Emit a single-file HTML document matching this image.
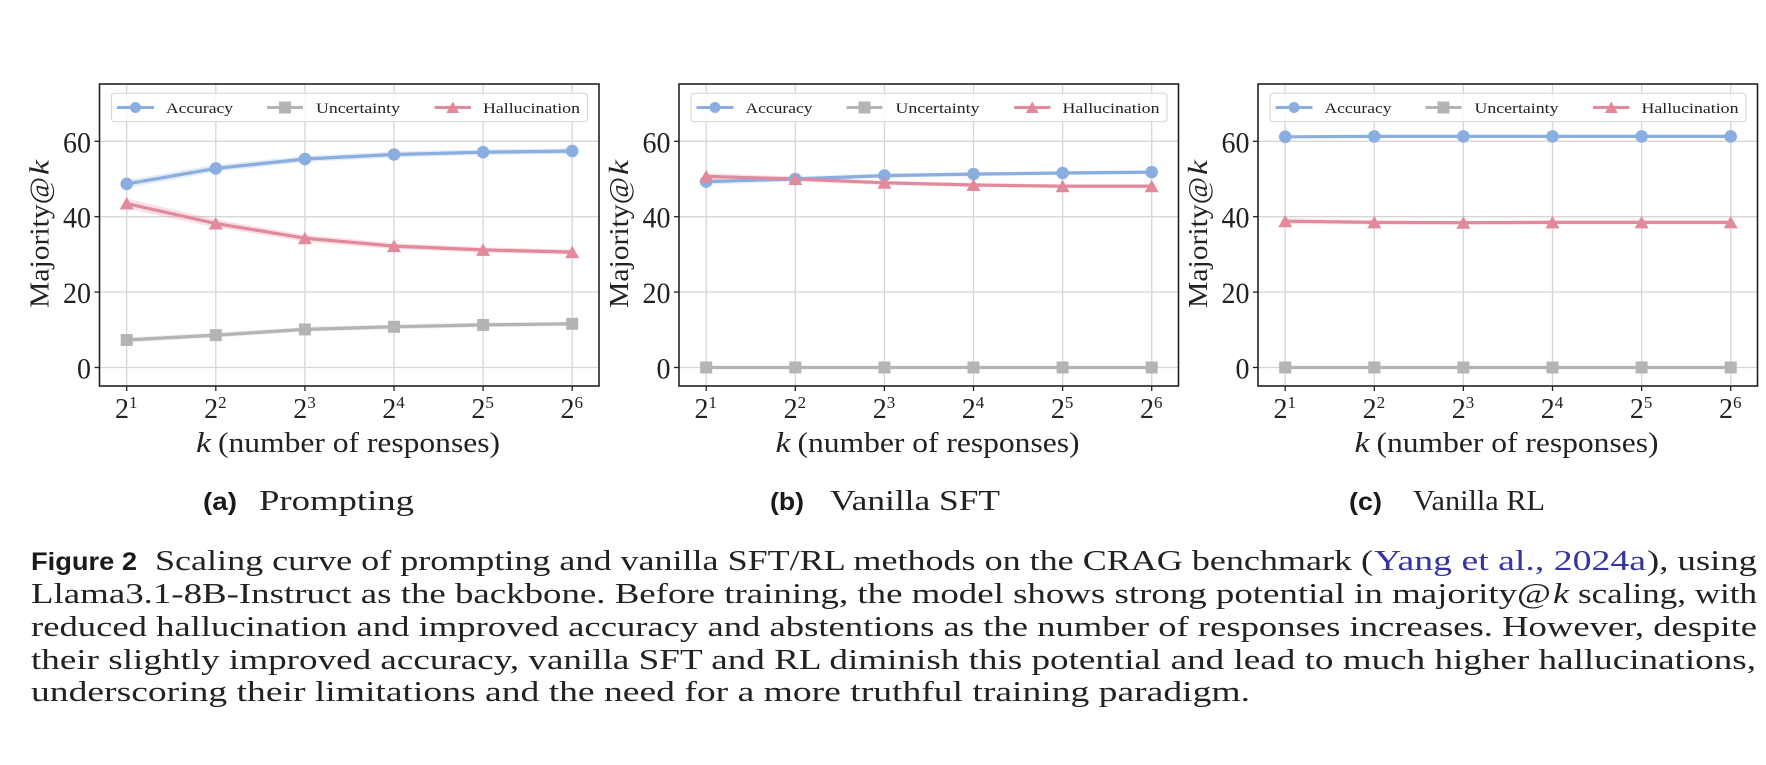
<!DOCTYPE html>
<html>
<head>
<meta charset="utf-8">
<style>
html,body{margin:0;padding:0;background:#fff;}
svg{display:block;}
.s{font-family:"Liberation Serif",serif;fill:#222;}
.ss{font-family:"Liberation Sans",sans-serif;font-weight:bold;fill:#1a1a1a;}
</style>
</head>
<body>
<svg width="1766" height="765" viewBox="0 0 1766 765" xmlns="http://www.w3.org/2000/svg">
<rect width="1766" height="765" fill="#fff"/>

<!-- ================= PANEL A ================= -->
<g>
  <g stroke="#d6d6d6" stroke-width="1.3">
    <line x1="126.7" y1="84" x2="126.7" y2="386"/><line x1="215.8" y1="84" x2="215.8" y2="386"/><line x1="304.9" y1="84" x2="304.9" y2="386"/><line x1="394" y1="84" x2="394" y2="386"/><line x1="483.1" y1="84" x2="483.1" y2="386"/><line x1="572.2" y1="84" x2="572.2" y2="386"/>
    <line x1="99.5" y1="367.5" x2="599" y2="367.5"/><line x1="99.5" y1="292.1" x2="599" y2="292.1"/><line x1="99.5" y1="216.7" x2="599" y2="216.7"/><line x1="99.5" y1="141.3" x2="599" y2="141.3"/>
  </g>
  <g stroke="#222" stroke-width="1.3">
    <line x1="126.7" y1="386" x2="126.7" y2="391"/><line x1="215.8" y1="386" x2="215.8" y2="391"/><line x1="304.9" y1="386" x2="304.9" y2="391"/><line x1="394" y1="386" x2="394" y2="391"/><line x1="483.1" y1="386" x2="483.1" y2="391"/><line x1="572.2" y1="386" x2="572.2" y2="391"/>
    <line x1="94.5" y1="367.5" x2="99.5" y2="367.5"/><line x1="94.5" y1="292.1" x2="99.5" y2="292.1"/><line x1="94.5" y1="216.7" x2="99.5" y2="216.7"/><line x1="94.5" y1="141.3" x2="99.5" y2="141.3"/>
  </g>
  <polygon fill="#8aaee0" fill-opacity="0.25" points="126.7,179.9 215.8,164.9 304.9,156 394,151.5 483.1,149.4 572.2,148.3 572.2,153.9 483.1,155 394,157.5 304.9,162 215.8,171.9 126.7,187.9"/>
  <polygon fill="#e3899c" fill-opacity="0.25" points="126.7,198.5 215.8,219.5 304.9,234.7 394,243.1 483.1,247.2 572.2,249.5 572.2,254.7 483.1,252.6 394,249.1 304.9,241.7 215.8,227.5 126.7,208.5"/>
  <polygon fill="#b4b4b4" fill-opacity="0.25" points="126.7,337.5 215.8,332.6 304.9,327 394,324.4 483.1,322.6 572.2,321.5 572.2,326.1 483.1,327.2 394,329.2 304.9,331.8 215.8,337.6 126.7,342.5"/>
  <polyline fill="none" stroke="#8aaee0" stroke-width="3.2" points="126.7,183.9 215.8,168.4 304.9,159 394,154.5 483.1,152.2 572.2,151.1"/>
  <polyline fill="none" stroke="#b4b4b4" stroke-width="3.2" points="126.7,340 215.8,335.1 304.9,329.4 394,326.8 483.1,324.9 572.2,323.8"/>
  <polyline fill="none" stroke="#e3899c" stroke-width="3.2" points="126.7,203.5 215.8,223.5 304.9,238.2 394,246.1 483.1,249.9 572.2,252.1"/>
  <g fill="#8aaee0"><circle cx="126.7" cy="183.9" r="6.3"/><circle cx="215.8" cy="168.4" r="6.3"/><circle cx="304.9" cy="159" r="6.3"/><circle cx="394" cy="154.5" r="6.3"/><circle cx="483.1" cy="152.2" r="6.3"/><circle cx="572.2" cy="151.1" r="6.3"/></g>
  <g fill="#b4b4b4"><rect x="120.7" y="334" width="12" height="12"/><rect x="209.8" y="329.1" width="12" height="12"/><rect x="298.9" y="323.4" width="12" height="12"/><rect x="388" y="320.8" width="12" height="12"/><rect x="477.1" y="318.9" width="12" height="12"/><rect x="566.2" y="317.8" width="12" height="12"/></g>
  <g fill="#e3899c"><polygon points="126.7,197 119.7,209.5 133.7,209.5"/><polygon points="215.8,217 208.8,229.5 222.8,229.5"/><polygon points="304.9,231.7 297.9,244.2 311.9,244.2"/><polygon points="394,239.6 387,252.1 401,252.1"/><polygon points="483.1,243.4 476.1,255.9 490.1,255.9"/><polygon points="572.2,245.6 565.2,258.1 579.2,258.1"/></g>
  <rect x="111.5" y="93.3" width="476" height="28.4" rx="3" fill="#fff" fill-opacity="0.85" stroke="#d9d9d9" stroke-width="1.2"/>
  <line x1="117" y1="107.5" x2="154" y2="107.5" stroke="#8aaee0" stroke-width="3"/><circle cx="135.5" cy="107.5" r="5.5" fill="#8aaee0"/>
  <line x1="267" y1="107.5" x2="303" y2="107.5" stroke="#b4b4b4" stroke-width="3"/><rect x="279" y="101.5" width="12" height="12" fill="#b4b4b4"/>
  <line x1="434.5" y1="107.5" x2="471" y2="107.5" stroke="#e3899c" stroke-width="3"/><polygon points="452.8,101.5 446.3,113 459.3,113" fill="#e3899c"/>
  <text class="s" x="166" y="112.8" font-size="15" textLength="67" lengthAdjust="spacingAndGlyphs">Accuracy</text>
  <text class="s" x="316" y="112.8" font-size="15" textLength="84" lengthAdjust="spacingAndGlyphs">Uncertainty</text>
  <text class="s" x="483" y="112.8" font-size="15" textLength="97" lengthAdjust="spacingAndGlyphs">Hallucination</text>
  <rect x="99.5" y="84" width="499.5" height="302" fill="none" stroke="#222" stroke-width="1.6"/>
  <text class="s" x="63" y="152.3" font-size="30" textLength="28" lengthAdjust="spacingAndGlyphs">60</text>
  <text class="s" x="63" y="227.7" font-size="30" textLength="28" lengthAdjust="spacingAndGlyphs">40</text>
  <text class="s" x="63" y="303.1" font-size="30" textLength="28" lengthAdjust="spacingAndGlyphs">20</text>
  <text class="s" x="77" y="378.5" font-size="30" textLength="14" lengthAdjust="spacingAndGlyphs">0</text>
  <text class="s" x="115" y="418" font-size="28">2<tspan font-size="17" dy="-10">1</tspan></text>
  <text class="s" x="204.1" y="418" font-size="28">2<tspan font-size="17" dy="-10">2</tspan></text>
  <text class="s" x="293.2" y="418" font-size="28">2<tspan font-size="17" dy="-10">3</tspan></text>
  <text class="s" x="382.3" y="418" font-size="28">2<tspan font-size="17" dy="-10">4</tspan></text>
  <text class="s" x="471.4" y="418" font-size="28">2<tspan font-size="17" dy="-10">5</tspan></text>
  <text class="s" x="560.5" y="418" font-size="28">2<tspan font-size="17" dy="-10">6</tspan></text>
  <text class="s" x="196" y="452" font-size="28" font-style="italic" textLength="15" lengthAdjust="spacingAndGlyphs">k</text>
  <text class="s" x="218" y="452" font-size="28" textLength="282" lengthAdjust="spacingAndGlyphs">(number of responses)</text>
  <g transform="translate(48.5,234) rotate(-90)">
    <text class="s" x="-74" y="0" font-size="27" textLength="131" lengthAdjust="spacingAndGlyphs">Majority@</text>
    <text class="s" x="59" y="0" font-size="27" font-style="italic" textLength="15" lengthAdjust="spacingAndGlyphs">k</text>
  </g>
</g>

<!-- ================= PANEL B ================= -->
<g transform="translate(579.5,0)">
  <g stroke="#d6d6d6" stroke-width="1.3">
    <line x1="126.7" y1="84" x2="126.7" y2="386"/><line x1="215.8" y1="84" x2="215.8" y2="386"/><line x1="304.9" y1="84" x2="304.9" y2="386"/><line x1="394" y1="84" x2="394" y2="386"/><line x1="483.1" y1="84" x2="483.1" y2="386"/><line x1="572.2" y1="84" x2="572.2" y2="386"/>
    <line x1="99.5" y1="367.5" x2="599" y2="367.5"/><line x1="99.5" y1="292.1" x2="599" y2="292.1"/><line x1="99.5" y1="216.7" x2="599" y2="216.7"/><line x1="99.5" y1="141.3" x2="599" y2="141.3"/>
  </g>
  <g stroke="#222" stroke-width="1.3">
    <line x1="126.7" y1="386" x2="126.7" y2="391"/><line x1="215.8" y1="386" x2="215.8" y2="391"/><line x1="304.9" y1="386" x2="304.9" y2="391"/><line x1="394" y1="386" x2="394" y2="391"/><line x1="483.1" y1="386" x2="483.1" y2="391"/><line x1="572.2" y1="386" x2="572.2" y2="391"/>
    <line x1="94.5" y1="367.5" x2="99.5" y2="367.5"/><line x1="94.5" y1="292.1" x2="99.5" y2="292.1"/><line x1="94.5" y1="216.7" x2="99.5" y2="216.7"/><line x1="94.5" y1="141.3" x2="99.5" y2="141.3"/>
  </g>
  <polygon fill="#8aaee0" fill-opacity="0.22" points="126.7,178.6 215.8,176.5 304.9,173.4 394,172.1 483.1,171 572.2,170.2 572.2,174.2 483.1,175 394,176.1 304.9,177.8 215.8,181.5 126.7,184.6"/>
  <polygon fill="#e3899c" fill-opacity="0.22" points="126.7,172.9 215.8,176.5 304.9,180.6 394,183 483.1,184.2 572.2,184.2 572.2,188.2 483.1,188.2 394,187 304.9,185 215.8,181.5 126.7,179.9"/>
  <polyline fill="none" stroke="#8aaee0" stroke-width="3.2" points="126.7,181.6 215.8,179 304.9,175.6 394,174.1 483.1,173 572.2,172.2"/>
  <polyline fill="none" stroke="#b4b4b4" stroke-width="3.2" points="126.7,367.5 215.8,367.5 304.9,367.5 394,367.5 483.1,367.5 572.2,367.5"/>
  <polyline fill="none" stroke="#e3899c" stroke-width="3.2" points="126.7,176.4 215.8,179 304.9,182.8 394,185 483.1,186.2 572.2,186.2"/>
  <g fill="#8aaee0"><circle cx="126.7" cy="181.6" r="6.3"/><circle cx="215.8" cy="179" r="6.3"/><circle cx="304.9" cy="175.6" r="6.3"/><circle cx="394" cy="174.1" r="6.3"/><circle cx="483.1" cy="173" r="6.3"/><circle cx="572.2" cy="172.2" r="6.3"/></g>
  <g fill="#b4b4b4"><rect x="120.7" y="361.5" width="12" height="12"/><rect x="209.8" y="361.5" width="12" height="12"/><rect x="298.9" y="361.5" width="12" height="12"/><rect x="388" y="361.5" width="12" height="12"/><rect x="477.1" y="361.5" width="12" height="12"/><rect x="566.2" y="361.5" width="12" height="12"/></g>
  <g fill="#e3899c"><polygon points="126.7,169.9 119.7,182.4 133.7,182.4"/><polygon points="215.8,172.5 208.8,185 222.8,185"/><polygon points="304.9,176.3 297.9,188.8 311.9,188.8"/><polygon points="394,178.5 387,191 401,191"/><polygon points="483.1,179.7 476.1,192.2 490.1,192.2"/><polygon points="572.2,179.7 565.2,192.2 579.2,192.2"/></g>
  <rect x="111.5" y="93.3" width="476" height="28.4" rx="3" fill="#fff" fill-opacity="0.85" stroke="#d9d9d9" stroke-width="1.2"/>
  <line x1="117" y1="107.5" x2="154" y2="107.5" stroke="#8aaee0" stroke-width="3"/><circle cx="135.5" cy="107.5" r="5.5" fill="#8aaee0"/>
  <line x1="267" y1="107.5" x2="303" y2="107.5" stroke="#b4b4b4" stroke-width="3"/><rect x="279" y="101.5" width="12" height="12" fill="#b4b4b4"/>
  <line x1="434.5" y1="107.5" x2="471" y2="107.5" stroke="#e3899c" stroke-width="3"/><polygon points="452.8,101.5 446.3,113 459.3,113" fill="#e3899c"/>
  <text class="s" x="166" y="112.8" font-size="15" textLength="67" lengthAdjust="spacingAndGlyphs">Accuracy</text>
  <text class="s" x="316" y="112.8" font-size="15" textLength="84" lengthAdjust="spacingAndGlyphs">Uncertainty</text>
  <text class="s" x="483" y="112.8" font-size="15" textLength="97" lengthAdjust="spacingAndGlyphs">Hallucination</text>
  <rect x="99.5" y="84" width="499.5" height="302" fill="none" stroke="#222" stroke-width="1.6"/>
  <text class="s" x="63" y="152.3" font-size="30" textLength="28" lengthAdjust="spacingAndGlyphs">60</text>
  <text class="s" x="63" y="227.7" font-size="30" textLength="28" lengthAdjust="spacingAndGlyphs">40</text>
  <text class="s" x="63" y="303.1" font-size="30" textLength="28" lengthAdjust="spacingAndGlyphs">20</text>
  <text class="s" x="77" y="378.5" font-size="30" textLength="14" lengthAdjust="spacingAndGlyphs">0</text>
  <text class="s" x="115" y="418" font-size="28">2<tspan font-size="17" dy="-10">1</tspan></text>
  <text class="s" x="204.1" y="418" font-size="28">2<tspan font-size="17" dy="-10">2</tspan></text>
  <text class="s" x="293.2" y="418" font-size="28">2<tspan font-size="17" dy="-10">3</tspan></text>
  <text class="s" x="382.3" y="418" font-size="28">2<tspan font-size="17" dy="-10">4</tspan></text>
  <text class="s" x="471.4" y="418" font-size="28">2<tspan font-size="17" dy="-10">5</tspan></text>
  <text class="s" x="560.5" y="418" font-size="28">2<tspan font-size="17" dy="-10">6</tspan></text>
  <text class="s" x="196" y="452" font-size="28" font-style="italic" textLength="15" lengthAdjust="spacingAndGlyphs">k</text>
  <text class="s" x="218" y="452" font-size="28" textLength="282" lengthAdjust="spacingAndGlyphs">(number of responses)</text>
  <g transform="translate(48.5,234) rotate(-90)">
    <text class="s" x="-74" y="0" font-size="27" textLength="131" lengthAdjust="spacingAndGlyphs">Majority@</text>
    <text class="s" x="59" y="0" font-size="27" font-style="italic" textLength="15" lengthAdjust="spacingAndGlyphs">k</text>
  </g>
</g>

<!-- ================= PANEL C ================= -->
<g transform="translate(1158.5,0)">
  <g stroke="#d6d6d6" stroke-width="1.3">
    <line x1="126.7" y1="84" x2="126.7" y2="386"/><line x1="215.8" y1="84" x2="215.8" y2="386"/><line x1="304.9" y1="84" x2="304.9" y2="386"/><line x1="394" y1="84" x2="394" y2="386"/><line x1="483.1" y1="84" x2="483.1" y2="386"/><line x1="572.2" y1="84" x2="572.2" y2="386"/>
    <line x1="99.5" y1="367.5" x2="599" y2="367.5"/><line x1="99.5" y1="292.1" x2="599" y2="292.1"/><line x1="99.5" y1="216.7" x2="599" y2="216.7"/><line x1="99.5" y1="141.3" x2="599" y2="141.3"/>
  </g>
  <g stroke="#222" stroke-width="1.3">
    <line x1="126.7" y1="386" x2="126.7" y2="391"/><line x1="215.8" y1="386" x2="215.8" y2="391"/><line x1="304.9" y1="386" x2="304.9" y2="391"/><line x1="394" y1="386" x2="394" y2="391"/><line x1="483.1" y1="386" x2="483.1" y2="391"/><line x1="572.2" y1="386" x2="572.2" y2="391"/>
    <line x1="94.5" y1="367.5" x2="99.5" y2="367.5"/><line x1="94.5" y1="292.1" x2="99.5" y2="292.1"/><line x1="94.5" y1="216.7" x2="99.5" y2="216.7"/><line x1="94.5" y1="141.3" x2="99.5" y2="141.3"/>
  </g>
  <polygon fill="#e3899c" fill-opacity="0.22" points="126.7,218.2 215.8,220.4 304.9,220.7 394,220.4 483.1,220.4 572.2,220.4 572.2,224.4 483.1,224.4 394,224.4 304.9,224.7 215.8,224.4 126.7,224.2"/>
  <polyline fill="none" stroke="#8aaee0" stroke-width="3.2" points="126.7,136.8 215.8,136.4 304.9,136.4 394,136.4 483.1,136.4 572.2,136.4"/>
  <polyline fill="none" stroke="#b4b4b4" stroke-width="3.2" points="126.7,367.5 215.8,367.5 304.9,367.5 394,367.5 483.1,367.5 572.2,367.5"/>
  <polyline fill="none" stroke="#e3899c" stroke-width="3.2" points="126.7,221.2 215.8,222.4 304.9,222.7 394,222.4 483.1,222.4 572.2,222.4"/>
  <g fill="#8aaee0"><circle cx="126.7" cy="136.8" r="6.3"/><circle cx="215.8" cy="136.4" r="6.3"/><circle cx="304.9" cy="136.4" r="6.3"/><circle cx="394" cy="136.4" r="6.3"/><circle cx="483.1" cy="136.4" r="6.3"/><circle cx="572.2" cy="136.4" r="6.3"/></g>
  <g fill="#b4b4b4"><rect x="120.7" y="361.5" width="12" height="12"/><rect x="209.8" y="361.5" width="12" height="12"/><rect x="298.9" y="361.5" width="12" height="12"/><rect x="388" y="361.5" width="12" height="12"/><rect x="477.1" y="361.5" width="12" height="12"/><rect x="566.2" y="361.5" width="12" height="12"/></g>
  <g fill="#e3899c"><polygon points="126.7,214.7 119.7,227.2 133.7,227.2"/><polygon points="215.8,215.9 208.8,228.4 222.8,228.4"/><polygon points="304.9,216.2 297.9,228.7 311.9,228.7"/><polygon points="394,215.9 387,228.4 401,228.4"/><polygon points="483.1,215.9 476.1,228.4 490.1,228.4"/><polygon points="572.2,215.9 565.2,228.4 579.2,228.4"/></g>
  <rect x="111.5" y="93.3" width="476" height="28.4" rx="3" fill="#fff" fill-opacity="0.85" stroke="#d9d9d9" stroke-width="1.2"/>
  <line x1="117" y1="107.5" x2="154" y2="107.5" stroke="#8aaee0" stroke-width="3"/><circle cx="135.5" cy="107.5" r="5.5" fill="#8aaee0"/>
  <line x1="267" y1="107.5" x2="303" y2="107.5" stroke="#b4b4b4" stroke-width="3"/><rect x="279" y="101.5" width="12" height="12" fill="#b4b4b4"/>
  <line x1="434.5" y1="107.5" x2="471" y2="107.5" stroke="#e3899c" stroke-width="3"/><polygon points="452.8,101.5 446.3,113 459.3,113" fill="#e3899c"/>
  <text class="s" x="166" y="112.8" font-size="15" textLength="67" lengthAdjust="spacingAndGlyphs">Accuracy</text>
  <text class="s" x="316" y="112.8" font-size="15" textLength="84" lengthAdjust="spacingAndGlyphs">Uncertainty</text>
  <text class="s" x="483" y="112.8" font-size="15" textLength="97" lengthAdjust="spacingAndGlyphs">Hallucination</text>
  <rect x="99.5" y="84" width="499.5" height="302" fill="none" stroke="#222" stroke-width="1.6"/>
  <text class="s" x="63" y="152.3" font-size="30" textLength="28" lengthAdjust="spacingAndGlyphs">60</text>
  <text class="s" x="63" y="227.7" font-size="30" textLength="28" lengthAdjust="spacingAndGlyphs">40</text>
  <text class="s" x="63" y="303.1" font-size="30" textLength="28" lengthAdjust="spacingAndGlyphs">20</text>
  <text class="s" x="77" y="378.5" font-size="30" textLength="14" lengthAdjust="spacingAndGlyphs">0</text>
  <text class="s" x="115" y="418" font-size="28">2<tspan font-size="17" dy="-10">1</tspan></text>
  <text class="s" x="204.1" y="418" font-size="28">2<tspan font-size="17" dy="-10">2</tspan></text>
  <text class="s" x="293.2" y="418" font-size="28">2<tspan font-size="17" dy="-10">3</tspan></text>
  <text class="s" x="382.3" y="418" font-size="28">2<tspan font-size="17" dy="-10">4</tspan></text>
  <text class="s" x="471.4" y="418" font-size="28">2<tspan font-size="17" dy="-10">5</tspan></text>
  <text class="s" x="560.5" y="418" font-size="28">2<tspan font-size="17" dy="-10">6</tspan></text>
  <text class="s" x="196" y="452" font-size="28" font-style="italic" textLength="15" lengthAdjust="spacingAndGlyphs">k</text>
  <text class="s" x="218" y="452" font-size="28" textLength="282" lengthAdjust="spacingAndGlyphs">(number of responses)</text>
  <g transform="translate(48.5,234) rotate(-90)">
    <text class="s" x="-74" y="0" font-size="27" textLength="131" lengthAdjust="spacingAndGlyphs">Majority@</text>
    <text class="s" x="59" y="0" font-size="27" font-style="italic" textLength="15" lengthAdjust="spacingAndGlyphs">k</text>
  </g>
</g>

<!-- ================= SUBCAPTIONS ================= -->
<text class="ss" x="203" y="510" font-size="25" textLength="34" lengthAdjust="spacingAndGlyphs">(a)</text>
<text class="s" x="259" y="510" font-size="29" textLength="155" lengthAdjust="spacingAndGlyphs">Prompting</text>
<text class="ss" x="770" y="510" font-size="25" textLength="34" lengthAdjust="spacingAndGlyphs">(b)</text>
<text class="s" x="830" y="510" font-size="29" textLength="170" lengthAdjust="spacingAndGlyphs">Vanilla SFT</text>
<text class="ss" x="1349" y="510" font-size="25" textLength="33" lengthAdjust="spacingAndGlyphs">(c)</text>
<text class="s" x="1413" y="510" font-size="29" textLength="132" lengthAdjust="spacingAndGlyphs">Vanilla RL</text>

<!-- ================= CAPTION ================= -->
<text class="ss" x="31" y="570" font-size="25" textLength="106" lengthAdjust="spacingAndGlyphs">Figure 2</text>
<text class="s" x="155" y="570" font-size="28" textLength="1218" lengthAdjust="spacingAndGlyphs">Scaling curve of prompting and vanilla SFT/RL methods on the CRAG benchmark (</text>
<text class="s" x="1374" y="570" font-size="28" textLength="272" lengthAdjust="spacingAndGlyphs" style="fill:#3434a6">Yang et al., 2024a</text>
<text class="s" x="1647" y="570" font-size="28" textLength="110" lengthAdjust="spacingAndGlyphs">), using</text>

<text class="s" x="31" y="603" font-size="28" textLength="1520" lengthAdjust="spacingAndGlyphs">Llama3.1-8B-Instruct as the backbone. Before training, the model shows strong potential in majority@</text>
<text class="s" x="1553" y="603" font-size="28" font-style="italic" textLength="16" lengthAdjust="spacingAndGlyphs">k</text>
<text class="s" x="1578" y="603" font-size="28" textLength="179" lengthAdjust="spacingAndGlyphs">scaling, with</text>

<text class="s" x="31" y="636" font-size="28" textLength="1726" lengthAdjust="spacingAndGlyphs">reduced hallucination and improved accuracy and abstentions as the number of responses increases. However, despite</text>
<text class="s" x="31" y="669" font-size="28" textLength="1725" lengthAdjust="spacingAndGlyphs">their slightly improved accuracy, vanilla SFT and RL diminish this potential and lead to much higher hallucinations,</text>
<text class="s" x="31" y="701" font-size="28" textLength="1219" lengthAdjust="spacingAndGlyphs">underscoring their limitations and the need for a more truthful training paradigm.</text>
</svg>
</body>
</html>
